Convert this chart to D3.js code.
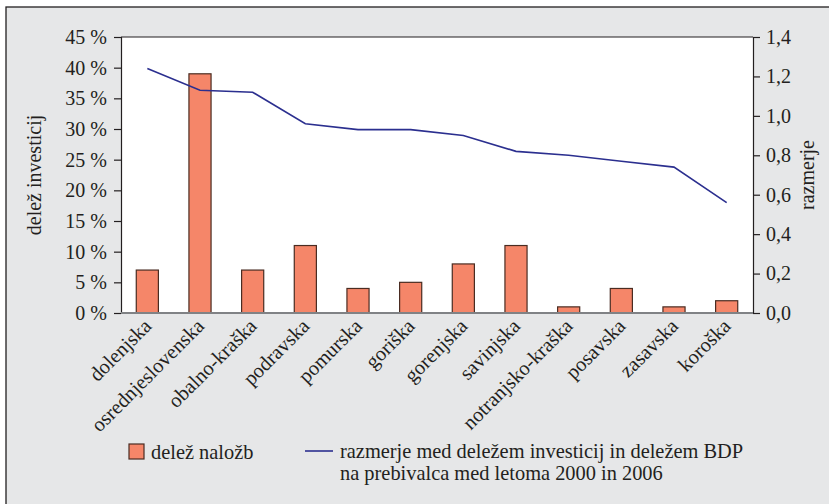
<!DOCTYPE html>
<meta charset="utf-8">
<style>
body { margin: 0; background: #fff; }
svg, svg text { font-family: "Liberation Serif", "DejaVu Serif", serif; fill: #231f20; }
</style>
<svg id="chart" width="829" height="504"></svg>
<script src="https://d3js.org/d3.v7.min.js"></script>
<script>

var regions = ["dolenjska", "osrednjeslovenska", "obalno-kraška", "podravska", "pomurska", "goriška",
               "gorenjska", "savinjska", "notranjsko-kraška", "posavska", "zasavska", "koroška"];
var investShare = [7, 39, 7, 11, 4, 5, 8, 11, 1, 4, 1, 2];
var ratio = [1.24, 1.13, 1.12, 0.96, 0.93, 0.93, 0.90, 0.82, 0.80, 0.77, 0.74, 0.56];
var leftTicks = [0, 5, 10, 15, 20, 25, 30, 35, 40, 45];
var rightTicks = [0, 0.2, 0.4, 0.6, 0.8, 1.0, 1.2, 1.4];
var barLabel = "delež naložb";
var lineLabel = ["razmerje med deležem investicij in deležem BDP", "na prebivalca med letoma 2000 in 2006"];

var margin = {left: 121, top: 37, right: 753, bottom: 313};
var font = "'Liberation Serif', 'DejaVu Serif', serif";

var svg = d3.select("#chart");

// grey frame
svg.append("rect")
    .attr("x", 6).attr("y", 7)
    .attr("width", 900).attr("height", 600)
    .attr("fill", "#e6e7e8")
    .attr("stroke", "#231f20")
    .attr("stroke-width", 1.3);

svg.append("rect")
    .attr("x", margin.left).attr("y", margin.top)
    .attr("width", margin.right - margin.left)
    .attr("height", margin.bottom - margin.top)
    .attr("fill", "#fff");

var x = d3.scaleBand()
    .domain(regions)
    .range([margin.left, margin.right])
    .paddingInner(0.58)
    .paddingOuter(0.29);

var yLeft = d3.scaleLinear().domain([0, 45]).range([margin.bottom, margin.top]);
var yRight = d3.scaleLinear().domain([0, 1.4]).range([margin.bottom, margin.top]);

// bars
svg.append("g")
  .selectAll("rect")
  .data(investShare)
  .enter().append("rect")
    .attr("x", function(d, i) { return x(regions[i]); })
    .attr("y", function(d) { return yLeft(d); })
    .attr("width", x.bandwidth())
    .attr("height", function(d) { return yLeft(0) - yLeft(d); })
    .attr("fill", "#f58669")
    .attr("stroke", "#4a2c22")
    .attr("stroke-width", 1.2);

// line
var line = d3.line()
    .x(function(d, i) { return x(regions[i]) + x.bandwidth() / 2; })
    .y(function(d) { return yRight(d); });

svg.append("path")
    .datum(ratio)
    .attr("d", line)
    .attr("fill", "none")
    .attr("stroke", "#2b2f8f")
    .attr("stroke-width", 1.6);

// top border of plot
svg.append("line")
    .attr("x1", margin.left).attr("x2", margin.right)
    .attr("y1", margin.top).attr("y2", margin.top)
    .attr("stroke", "#231f20").attr("stroke-width", 1.2);

// left axis
var leftAxis = svg.append("g")
    .attr("transform", "translate(" + margin.left + ",0)")
    .call(d3.axisLeft(yLeft).tickValues(leftTicks).tickSize(7).tickPadding(7)
      .tickFormat(function(d) { return d + " %"; }));

// right axis
var rightAxis = svg.append("g")
    .attr("transform", "translate(" + margin.right + ",0)")
    .call(d3.axisRight(yRight).tickValues(rightTicks).tickSize(7).tickPadding(6)
      .tickFormat(function(d) { return d3.format(".1f")(d).replace(".", ","); }));

[leftAxis, rightAxis].forEach(function(a) {
  a.attr("font-family", font).attr("font-size", 20);
  a.select(".domain").attr("stroke", "#231f20").attr("stroke-width", 1.2);
  a.selectAll(".tick line").attr("stroke", "#231f20").attr("stroke-width", 1.2);
  a.selectAll("text").style("fill", "#231f20");
});

// bottom axis
svg.append("line")
    .attr("x1", margin.left).attr("x2", margin.right)
    .attr("y1", margin.bottom).attr("y2", margin.bottom)
    .attr("stroke", "#808285").attr("stroke-width", 2);

svg.append("g")
    .attr("font-family", font)
    .attr("font-size", 20.4)
  .selectAll("text")
  .data(regions)
  .enter().append("text")
    .attr("transform", function(d) {
      return "translate(" + (x(d) + x.bandwidth() / 2 + 1) + ",323) rotate(-45)";
    })
    .attr("text-anchor", "end")
    .attr("dy", "0.3em")
    .text(function(d) { return d; });

// axis titles
svg.append("text")
    .attr("transform", "translate(41,175) rotate(-90)")
    .attr("text-anchor", "middle")
    .attr("font-family", font)
    .attr("font-size", 20)
    .text("delež investicij");

svg.append("text")
    .attr("transform", "translate(814,175) rotate(-90)")
    .attr("text-anchor", "middle")
    .attr("font-family", font)
    .attr("font-size", 20)
    .text("razmerje");

// legend
svg.append("rect")
    .attr("x", 129).attr("y", 444)
    .attr("width", 15).attr("height", 15)
    .attr("fill", "#f58669")
    .attr("stroke", "#4a2c22")
    .attr("stroke-width", 1.2);

svg.append("text")
    .attr("x", 151).attr("y", 459)
    .attr("font-family", font)
    .attr("font-size", 20.4)
    .text(barLabel);

svg.append("line")
    .attr("x1", 305).attr("x2", 333)
    .attr("y1", 451).attr("y2", 451)
    .attr("stroke", "#2b2f8f").attr("stroke-width", 1.6);

svg.append("text")
    .attr("font-family", font)
    .attr("font-size", 20.4)
  .selectAll("tspan")
  .data(lineLabel)
  .enter().append("tspan")
    .attr("x", 340)
    .attr("y", function(d, i) { return 458 + i * 22; })
    .text(function(d) { return d; });

</script>
